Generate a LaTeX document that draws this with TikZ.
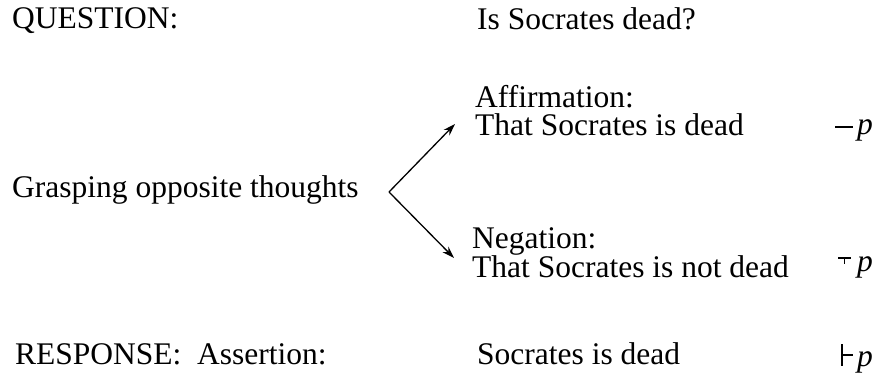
\documentclass[tikz,border=0pt]{standalone}
\usepackage{fontspec}
\setmainfont{Liberation Serif}
\usetikzlibrary{arrows.meta}
\begin{document}
\begin{tikzpicture}[x=1pt,y=-1pt,
  txt/.style={anchor=base west, inner sep=0pt, font=\fontsize{31.5}{34}\selectfont},
  arr/.style={line width=1.3pt, -{Stealth[length=12pt,width=8pt]}},
  sym/.style={line width=1.3pt}]
\useasboundingbox (0,0) rectangle (880,379);
\node[txt] (q) at (12,29) {QUESTION:};
\node[txt] (qs) at (477,30) {Is Socrates dead?};
\node[txt] (aff) at (475,108) {Affirmation:};
\node[txt] (aff2) at (475,136) {That Socrates is dead};
\node[txt] (g) at (12,198) {Grasping opposite thoughts};
\node[txt] (neg) at (472,248) {Negation:};
\node[txt] (neg2) at (472,277) {That Socrates is not dead};
\node[txt] (resp) at (15,364) {RESPONSE:\ \ Assertion:};
\node[txt] (ans) at (477,364) {Socrates is dead};
\coordinate (v) at (389,192);
\coordinate (a1) at (455,124);
\coordinate (a2) at (454,258);
\draw[arr] (v) -- (a1);
\draw[arr] (v) -- (a2);
% symbols
\node[txt] (p1) at (857,135) {\itshape p};
\draw[sym] (835,127) -- (853,127);
\node[txt] (p2) at (857,272) {\itshape p};
\draw[sym] (838,258) -- (851,258) (844.5,258) -- (844.5,264);
\node[txt] (p3) at (857,366) {\itshape p};
\draw[sym] (842,344) -- (842,366) (842,355) -- (853,355);
\end{tikzpicture}
\end{document}
